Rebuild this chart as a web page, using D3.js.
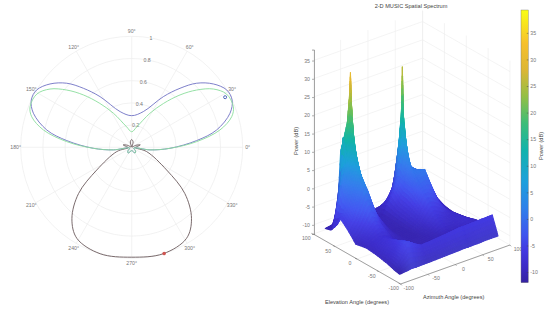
<!DOCTYPE html>
<html>
<head>
<meta charset="utf-8">
<script src="https://cdn.jsdelivr.net/npm/d3@7"></script>
<style>
  html, body { margin: 0; padding: 0; background: #fff; }
  text { font-family: "Liberation Sans", Arial, sans-serif; }
</style>
</head>
<body>
<svg width="550" height="309"></svg>
<script>
// polar pattern (degrees, normalised radius)
const blueAngles = [-8, -1.5, 5.9, 11.5, 19.1, 25.2, 31.1, 37.8, 44.6, 50.7, 58, 72, 90, 108, 122, 129.3, 135.4, 142.2, 148.9, 154.8, 160.9, 168.5, 174.1, 181.5, 188, 200, 225, 240, 270, 300, 315, 340];
const blueRadii = [.167, .345, .588, .78, .937, 1, 1, .931, .822, .687, .538, .338, .285, .338, .538, .687, .822, .931, 1, 1, .937, .78, .588, .345, .167, .02, .05, .06, .03, .06, .05, .02];
const greenAngles = [-8, -1.5, 5, 11.1, 17, 21.8, 29.3, 35.5, 41.4, 47.3, 54, 61.8, 76, 90, 104, 118.2, 126, 132.7, 138.6, 144.5, 150.7, 158.2, 163, 168.9, 175, 181.5, 188, 200, 225, 240, 270, 300, 315, 340];
const greenRadii = [.167, .345, .588, .81, .942, .986, .98, .904, .78, .642, .489, .348, .19, .14, .19, .348, .489, .642, .78, .904, .98, .986, .942, .81, .588, .345, .167, .02, .05, .06, .03, .06, .05, .02];
const blackAngles = [270, 286.5, 301, 310, 319, 327, 344, 355, 8, 16, 26, 45, 75, 90, 105, 135, 154, 164, 172, 185, 196, 213, 221, 230, 239, 253.5];
const blackRadii = [.99, 1, .958, .838, .634, .375, .14, .03, .05, .08, .04, .005, .05, .07, .05, .005, .04, .08, .05, .03, .14, .375, .634, .838, .958, 1];
const markerBlue = [28.2, .955];
const markerRed = [287, 1];
const radialTicks = [.2, .4, .6, .8, 1];
const angleTicks = [0, 30, 60, 90, 120, 150, 180, 210, 240, 270, 300, 330];

// spectrum surface, rows = elevation, columns = azimuth (dB, estimated)
const azimuths = [-90, -78, -68, -62, -60, -58, -52, -40, -20, 0, 18, 28, 33, 35, 37, 42, 52, 70, 90];
const elevations = [-85, -72, -58, -35, -10, 15, 35, 50, 58, 63, 65, 67, 72, 85];
const power = [
  [-11.4, -11.2, -11, -11, -11, -11, -11, -11, -10.9, -10.8, -10.7, -10.6, -10.6, -10.6, -10.6, -10.6, -10.6, -10.5, -10.5],
  [-11, -7.5, -4.8, -5, -5.2, -5.4, -6, -7, -6.8, -6.5, -6.2, -6, -6, -6, -6, -6, -5.9, -5.8, -5.7],
  [-10.4, -7.5, -5.2, -5.6, -5.8, -6, -7.5, -9.4, -9.8, -9.8, -9.8, -9.6, -9.5, -9.5, -9.5, -9.5, -9.5, -9.4, -9.2],
  [-9.8, -7.8, -6.6, -7, -7.2, -7.4, -8.4, -9.8, -10.4, -10.4, -10, -9.6, -9.4, -9.4, -9.4, -9.5, -9.3, -8.2, -9.5],
  [-9.4, -8.2, -7.6, -7.6, -7.6, -7.7, -8, -9.6, -10.6, -10.6, -9.6, -8, -7.2, -7, -7, -7.4, -8.4, -8.4, -10.5],
  [-10, -8, -6, -4.5, -4.2, -4.4, -5, -8.2, -10.6, -10.6, -8.2, -5, -3.4, -3, -3, -3, -4, -8.8, -11],
  [-7.2, -4.5, -1, 2, 2.6, 2.4, 1, -5, -10.4, -10.4, -7.5, -2.6, -.4, 0, 0, .8, 1.4, -6.5, -11],
  [-5.5, -2.5, 2, 6, 7.5, 7, 4, -3, -10.2, -10.2, -7, -2.2, 1, 2.5, 2, .9, .4, -8, -11],
  [-7.5, -1, 5, 10, 14, 12, 7, -3, -10, -10.2, -6, -1.6, 5, 9.5, 7, 1.5, 0, -9, -10.8],
  [-8.5, 1, 8, 15, 24, 18, 8, -2.6, -10, -10.2, -5.4, -1.3, 8, 16, 9.5, 2.5, -.5, -9.6, -10.6],
  [-8.8, 2, 9, 18, 32, 20, 8, -2.5, -10, -10.2, -5, -1.2, 9, 28.5, 10, 3, -1, -9.8, -10.6],
  [-9, 0, 11, 18, 26, 18, 7.5, -3, -10, -10.2, -5.2, -1.5, 8, 16, 9.5, 2.5, -1.5, -10, -10.6],
  [-10, -9, 14, 14, 18, 14, 6, -4, -10, -10.2, -6, -2.6, 5, 8, 6, 0, -4, -10, -10.6],
  [-10.5, -10.2, -8.5, 9, 10, 7, 2, -7, -9.9, -10, -9.6, -8, -6.8, -6, -5.5, -4, -7, -10, -10.6]
];
const zTicks = [-10, -5, 0, 5, 10, 15, 20, 25, 30, 35];
const azTicks = [-100, -50, 0, 50, 100];
const elTicks = [-100, -50, 0, 50, 100];
const barTicks = [-10, -5, 0, 5, 10, 15, 20, 25, 30, 35];
const colourStops = [-12, -9, -6, -3, 2, 7, 13, 18, 23, 28, 33, 39];
const colourValues = ["#3522a0", "#3c2bc6", "#4238e0", "#3f55ee", "#2f80ea", "#1ea0dc", "#12b3ab", "#3dbd78", "#93bf45", "#dcb635", "#f6c02c", "#f9fb15"];

const svg = d3.select("svg");
const grey = "#777";

// ---- left: polar chart ----
const cx = 131.7, cy = 147.3, R = 111;
const rScale = d3.scaleLinear().domain([0, 1]).range([0, R]);
const polar = svg.append("g").attr("transform", `translate(${cx},${cy})`);
const toRad = d => (90 - d) * Math.PI / 180;

polar.selectAll("circle.grid").data(radialTicks).enter().append("circle")
  .attr("class", "grid").attr("r", d => rScale(d))
  .attr("fill", "none").attr("stroke", "#ececec").attr("stroke-width", .7);
polar.selectAll("line.spoke").data(angleTicks).enter().append("line")
  .attr("class", "spoke")
  .attr("x2", d => rScale(1) * Math.cos(d * Math.PI / 180))
  .attr("y2", d => -rScale(1) * Math.sin(d * Math.PI / 180))
  .attr("stroke", "#ececec").attr("stroke-width", .7);
polar.selectAll("text.angle").data(angleTicks).enter().append("text")
  .attr("class", "angle")
  .attr("x", d => rScale(1.045) * Math.cos(d * Math.PI / 180))
  .attr("y", d => -rScale(1.045) * Math.sin(d * Math.PI / 180) + 2)
  .attr("text-anchor", "middle").attr("font-size", 5.2).attr("fill", grey)
  .text(d => d + "°");
polar.selectAll("text.radial").data(radialTicks).enter().append("text")
  .attr("class", "radial")
  .attr("x", d => rScale(d) * Math.cos(80 * Math.PI / 180))
  .attr("y", d => -rScale(d) * Math.sin(80 * Math.PI / 180) + 2)
  .attr("text-anchor", "middle").attr("font-size", 5.2).attr("fill", grey)
  .text(d => d);

const radial = d3.lineRadial()
  .angle(d => toRad(d[0])).radius(d => rScale(d[1]))
  .curve(d3.curveCatmullRomClosed.alpha(.5));
function drawPattern(angles, radii, colour) {
  polar.append("path").datum(angles.map((a, i) => [a, radii[i]]))
    .attr("d", radial).attr("fill", "none")
    .attr("stroke", colour).attr("stroke-width", .9);
}
drawPattern(blackAngles, blackRadii, "#6b5a5c");
drawPattern(blueAngles, blueRadii, "#6f72c4");
drawPattern(greenAngles, greenRadii, "#8ade9c");

polar.append("circle")
  .attr("cx", rScale(markerBlue[1]) * Math.cos(markerBlue[0] * Math.PI / 180))
  .attr("cy", -rScale(markerBlue[1]) * Math.sin(markerBlue[0] * Math.PI / 180))
  .attr("r", 1.5).attr("fill", "none").attr("stroke", "#3f5ab4").attr("stroke-width", .9);
polar.append("circle")
  .attr("cx", rScale(markerRed[1]) * Math.cos(markerRed[0] * Math.PI / 180))
  .attr("cy", -rScale(markerRed[1]) * Math.sin(markerRed[0] * Math.PI / 180))
  .attr("r", 1.8).attr("fill", "#cf5450");

// ---- right: 3D surface, fixed orthographic view ----
const front = [400.7, 284];
const azX = d3.scaleLinear().domain([-100, 100]).range([0, 109.3]);
const azY = d3.scaleLinear().domain([-100, 100]).range([0, -39]);
const elX = d3.scaleLinear().domain([-100, 100]).range([0, -87.4]);
const elY = d3.scaleLinear().domain([-100, 100]).range([0, -50]);
const zLift = d3.scaleLinear().domain([-12.5, 38]).range([0, -184.4]);
const project = (az, el, z) => [front[0] + azX(az) + elX(el), front[1] + azY(az) + elY(el) + zLift(z)];
const zTop = 38, zBottom = -12.5;

const walls = svg.append("g").attr("stroke", "#ececec").attr("stroke-width", .6);
function wallLine(a, b) {
  const p = project(...a), q = project(...b);
  walls.append("line").attr("x1", p[0]).attr("y1", p[1]).attr("x2", q[0]).attr("y2", q[1]);
}
zTicks.forEach(z => {
  wallLine([-100, 100, z], [100, 100, z]);
  wallLine([100, 100, z], [100, -100, z]);
});
azTicks.forEach(a => {
  wallLine([a, 100, zBottom], [a, 100, zTop]);
  wallLine([a, -100, zBottom], [a, 100, zBottom]);
});
elTicks.forEach(e => {
  wallLine([100, e, zBottom], [100, e, zTop]);
  wallLine([-100, e, zBottom], [100, e, zBottom]);
});

const colour = d3.scaleLinear().domain(colourStops).range(colourValues).clamp(true);

// light per grid node: faces turned to the viewer get brighter, backs get darker
const nodeLight = power.map((row, j) => row.map((_, i) => {
  const jLo = Math.max(j - 1, 0), jHi = Math.min(j + 1, power.length - 1);
  const iLo = Math.max(i - 1, 0), iHi = Math.min(i + 1, row.length - 1);
  const dEl = (power[jHi][i] - power[jLo][i]) / (elevations[jHi] - elevations[jLo]);
  const dAz = (row[iHi] - row[iLo]) / (azimuths[iHi] - azimuths[iLo]);
  return Math.max(-.4, Math.min(.4, .8 * dEl + .2 * dAz));
}));
function mix(grid, i, j, u, v) {
  return (1 - u) * (1 - v) * grid[j][i] + u * (1 - v) * grid[j][i + 1] +
    (1 - u) * v * grid[j + 1][i] + u * v * grid[j + 1][i + 1];
}
const cells = [];
const steps = 5;
for (let i = azimuths.length - 2; i >= 0; i--) {
  for (let j = elevations.length - 2; j >= 0; j--) {
    const az0 = azimuths[i], az1 = azimuths[i + 1], el0 = elevations[j], el1 = elevations[j + 1];
    for (let a = steps - 1; a >= 0; a--) {
      for (let b = steps - 1; b >= 0; b--) {
        const u0 = a / steps, u1 = (a + 1) / steps, v0 = b / steps, v1 = (b + 1) / steps;
        const azA = az0 + (az1 - az0) * u0, azB = az0 + (az1 - az0) * u1;
        const elA = el0 + (el1 - el0) * v0, elB = el0 + (el1 - el0) * v1;
        const zMid = mix(power, i, j, (u0 + u1) / 2, (v0 + v1) / 2);
        // light fades out on the tall spikes so they keep the colour bar's colour
        const fade = Math.max(0, Math.min(1, (8 - zMid) / 12));
        const light = mix(nodeLight, i, j, (u0 + u1) / 2, (v0 + v1) / 2) * fade;
        const base = colour(zMid);
        const fill = light > 0 ? d3.interpolateRgb(base, "#5a70ff")(light) : d3.interpolateRgb(base, "#2a1c9c")(-light);
        cells.push({
          pts: [project(azA, elA, mix(power, i, j, u0, v0)), project(azB, elA, mix(power, i, j, u1, v0)),
                project(azB, elB, mix(power, i, j, u1, v1)), project(azA, elB, mix(power, i, j, u0, v1))],
          fill: fill,
          // thick seams hide the white leak between cells, thin ones keep the spikes sharp
          seam: zMid > 12 ? .5 : 1.1
        });
      }
    }
  }
}
svg.append("g").selectAll("path").data(cells).enter().append("path")
  .attr("d", d => "M" + d.pts.join("L") + "Z")
  .attr("fill", d => d.fill).attr("stroke", d => d.fill).attr("stroke-width", d => d.seam)
  .attr("stroke-linejoin", "round");

// axis lines and labels
const axisColour = "#666";
const axisLayer = svg.append("g");
function axisLine(a, b) {
  const p = project(...a), q = project(...b);
  axisLayer.append("line").attr("x1", p[0]).attr("y1", p[1]).attr("x2", q[0]).attr("y2", q[1])
    .attr("stroke", axisColour).attr("stroke-width", .6);
}
axisLine([-100, 100, zBottom], [-100, -100, zBottom]);
axisLine([-100, -100, zBottom], [100, -100, zBottom]);

const zScale = d3.scaleLinear().domain([zBottom, zTop]).range([234, 49.6]);
const zAxis = svg.append("g").attr("transform", "translate(314,0)")
  .call(d3.axisLeft(zScale).tickValues(zTicks).tickSize(2).tickPadding(2).tickFormat(d => d));
zAxis.select(".domain").attr("stroke", axisColour).attr("stroke-width", .6);
zAxis.selectAll(".tick line").attr("stroke", axisColour).attr("stroke-width", .5);
zAxis.selectAll("text").attr("font-size", 5.2).attr("fill", grey).attr("font-family", "Liberation Sans");

elTicks.forEach(e => {
  const p = project(-100, e, zBottom);
  axisLayer.append("line").attr("x1", p[0]).attr("y1", p[1]).attr("x2", p[0] - 2).attr("y2", p[1] - .7)
    .attr("stroke", axisColour).attr("stroke-width", .5);
  axisLayer.append("text").attr("x", p[0] - 7).attr("y", p[1] + 6)
    .attr("text-anchor", "middle").attr("font-size", 5.2).attr("fill", grey).text(e);
});
azTicks.forEach(a => {
  const p = project(a, -100, zBottom);
  axisLayer.append("line").attr("x1", p[0]).attr("y1", p[1]).attr("x2", p[0] + 1.2).attr("y2", p[1] + 1.4)
    .attr("stroke", axisColour).attr("stroke-width", .5);
  axisLayer.append("text").attr("x", p[0] + 8).attr("y", p[1] + 6)
    .attr("text-anchor", "middle").attr("font-size", 5.2).attr("fill", grey).text(a);
});

svg.append("text").attr("x", 411).attr("y", 8).attr("text-anchor", "middle")
  .attr("font-size", 5.6).attr("fill", "#444").text("2-D MUSIC Spatial Spectrum");
svg.append("text").attr("x", 357).attr("y", 304).attr("text-anchor", "middle")
  .attr("font-size", 5.6).attr("fill", "#444").text("Elevation Angle (degrees)");
svg.append("text").attr("x", 453.7).attr("y", 299).attr("text-anchor", "middle")
  .attr("font-size", 5.6).attr("fill", "#444").text("Azimuth Angle (degrees)");
svg.append("text").attr("transform", "translate(298,141) rotate(-90)").attr("text-anchor", "middle")
  .attr("font-size", 5.6).attr("fill", "#444").text("Power (dB)");

// colour bar
const barScale = d3.scaleLinear().domain([-12, 39.3]).range([282.7, 10]);
const gradient = svg.append("defs").append("linearGradient")
  .attr("id", "bar").attr("x1", 0).attr("x2", 0).attr("y1", 1).attr("y2", 0);
colourStops.forEach((s, i) => gradient.append("stop")
  .attr("offset", (s + 12) / 51.3).attr("stop-color", colourValues[i]));
svg.append("rect").attr("x", 521).attr("y", 10).attr("width", 7.3).attr("height", 272.7)
  .attr("fill", "url(#bar)").attr("stroke", "#777").attr("stroke-width", .4);
const barAxis = svg.append("g").attr("transform", "translate(528.3,0)")
  .call(d3.axisRight(barScale).tickValues(barTicks).tickSize(-1.5).tickPadding(2).tickFormat(d => d));
barAxis.select(".domain").remove();
barAxis.selectAll(".tick line").attr("stroke", "#444").attr("stroke-width", .5);
barAxis.selectAll("text").attr("font-size", 5.2).attr("fill", grey).attr("font-family", "Liberation Sans");
svg.append("text").attr("transform", "translate(543,146) rotate(-90)").attr("text-anchor", "middle")
  .attr("font-size", 5.6).attr("fill", "#444").text("Power (dB)");
</script>
</body>
</html>
